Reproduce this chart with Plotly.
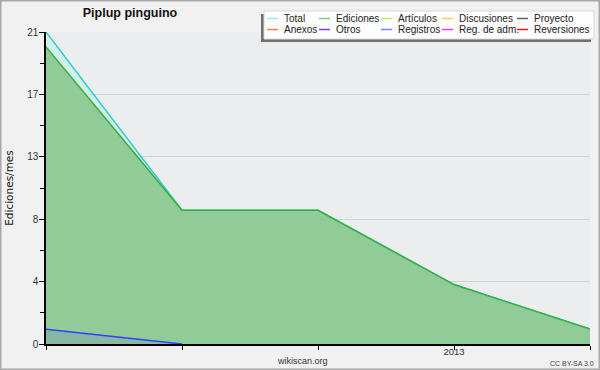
import plotly.graph_objects as go

# ---- data ----
months = ["2012-10", "2012-11", "2012-12", "2013-01", "2013-02"]
month_labels = ["", "", "", "2013", ""]
total = [21, 9, 9, 4, 1]
ediciones = [20, 9, 9, 4, 1]
registros = [1, 0, None, None, None]

y_tickvals = [0, 4.2, 8.4, 12.6, 16.8, 21]
y_ticktext = ["0", "4", "8", "13", "17", "21"]
y_minor = [2.1, 6.3, 10.5, 14.7, 18.9]

legend_row1 = ["Total", "Ediciones", "Artículos", "Discusiones", "Proyecto"]
legend_row2 = ["Anexos", "Otros", "Registros", "Reg. de adm.", "Reversiones"]
legend_col1 = ["#a8e6e0", "#80cc8c", "#c8e860", "#ffd060", "#606060"]
legend_col2 = ["#ff8040", "#8040e0", "#8080ff", "#e040e0", "#e02020"]

# ---- layout geometry (pixels) ----
W, H = 600, 370
L, R, T, B = 46, 590, 32, 344
PW, PH = R - L, B - T


def px(x):
    return (x - L) / PW


def py(y):
    return (B - y) / PH


FONT = "Liberation Sans, Arial, sans-serif"

fig = go.Figure()
fig.add_trace(go.Scatter(
    x=months, y=total, mode="lines", name="Total",
    line=dict(color="#30d0d0", width=1.5),
    fill="tozeroy", fillcolor="rgba(170,240,220,0.35)", showlegend=False))
fig.add_trace(go.Scatter(
    x=months, y=ediciones, mode="lines", name="Ediciones",
    line=dict(color="#30b040", width=1.5),
    fill="tozeroy", fillcolor="rgba(139,200,143,0.92)", showlegend=False))
fig.add_trace(go.Scatter(
    x=months, y=registros, mode="lines", name="Registros",
    line=dict(color="#3040ff", width=1.5),
    fill="tozeroy", fillcolor="rgba(64,64,255,0.13)", showlegend=False))

shapes = []
annotations = []

# outer border
shapes.append(dict(type="rect", xref="paper", yref="paper",
                   x0=px(0.75), x1=px(W - 0.75), y0=py(0.75), y1=py(H - 0.75),
                   line=dict(color="#a8a8a8", width=1.5), fillcolor="rgba(0,0,0,0)",
                   layer="above"))

# legend box + shadow
shapes.append(dict(type="rect", xref="paper", yref="paper",
                   x0=px(261), x1=px(591), y0=py(14), y1=py(42),
                   line=dict(width=0), fillcolor="#707070", layer="above"))
shapes.append(dict(type="rect", xref="paper", yref="paper",
                   x0=px(264), x1=px(594), y0=py(11), y1=py(39),
                   line=dict(color="#d8d8d8", width=1), fillcolor="#fdfdfd", layer="above"))

col_line_x = [267, 319, 381, 442, 517]
row_y = [18.5, 29.5]
for row, (names, colors) in enumerate([(legend_row1, legend_col1), (legend_row2, legend_col2)]):
    for i, (name, color) in enumerate(zip(names, colors)):
        x0 = col_line_x[i]
        shapes.append(dict(type="line", xref="paper", yref="paper",
                           x0=px(x0), x1=px(x0 + 11), y0=py(row_y[row]), y1=py(row_y[row]),
                           line=dict(color=color, width=1.5), layer="above"))
        annotations.append(dict(text=name, xref="paper", yref="paper",
                                x=px(x0 + 15), y=py(row_y[row]), xanchor="left", yanchor="middle",
                                showarrow=False, font=dict(family=FONT, size=10, color="#222")))

annotations.append(dict(text="wikiscan.org", xref="paper", yref="paper",
                        x=px(302), y=py(361), xanchor="center", yanchor="middle",
                        showarrow=False, font=dict(family=FONT, size=9, color="#333")))
annotations.append(dict(text="CC BY-SA 3.0", xref="paper", yref="paper",
                        x=px(572), y=py(363), xanchor="center", yanchor="middle",
                        showarrow=False, font=dict(family=FONT, size=7, color="#444")))

fig.update_layout(
    width=W, height=H, autosize=False,
    margin=dict(l=L, r=W - R, t=T, b=H - B, pad=0, autoexpand=False),
    paper_bgcolor="#f1f1f1",
    plot_bgcolor="#ecedef",
    showlegend=False,
    title=dict(text="<b>Piplup pinguino</b>", x=130 / W, y=1 - 13 / H,
               xanchor="center", yanchor="middle",
               font=dict(family=FONT, size=12.5, color="#111")),
    shapes=shapes,
    annotations=annotations,
    xaxis=dict(
        type="category", range=[0, 4], automargin=False,
        tickmode="array", tickvals=months, ticktext=month_labels,
        ticks="outside", ticklen=4, tickcolor="#000", tickwidth=1,
        ticklabelstandoff=-6,
        showline=True, linecolor="#000", linewidth=1.5,
        showgrid=False, zeroline=False, layer="above traces",
        tickfont=dict(family=FONT, size=9.5, color="#333"),
    ),
    yaxis=dict(
        range=[0, 21], automargin=False,
        tickmode="array", tickvals=y_tickvals, ticktext=y_ticktext,
        ticks="outside", ticklen=5, tickcolor="#000", tickwidth=1,
        ticklabelstandoff=-1,
        minor=dict(tickmode="array", tickvals=y_minor, ticks="outside", ticklen=4,
                   tickcolor="#000", showgrid=False),
        showline=True, linecolor="#000", linewidth=1.5,
        showgrid=True, gridcolor="#d2d2d2", gridwidth=1,
        zeroline=False, layer="above traces",
        tickfont=dict(family=FONT, size=10, color="#333"),
        title=dict(text="Ediciones/mes", standoff=11,
                   font=dict(family="DejaVu Sans", size=10.5, color="#111")),
    ),
)

fig.write_html(
    "out.html",
    config={"displayModeBar": False},
    post_script="document.body.style.margin='0';document.body.style.overflow='hidden';",
)
